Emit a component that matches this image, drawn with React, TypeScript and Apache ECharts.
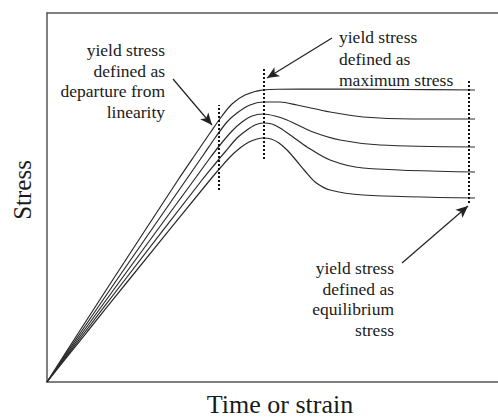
import React, { useEffect, useRef } from "react";
import * as echarts from "echarts";

// Curves: [time/strain, stress] in arbitrary units
const curve1 = [[0, 0], [32, 50], [65, 101], [131, 202], [150, 230], [163, 249], [175, 266], [185, 278], [198, 287], [216, 292], [253, 293], [353, 292.5], [428, 292]];
const curve2 = [[0, 0], [34, 50], [69, 101], [139, 202], [157, 228], [168, 244], [180, 260], [190, 269], [203, 277], [216, 280], [233, 280], [250, 277], [283, 270], [316, 265], [366, 263], [428, 263]];
const curve3 = [[0, 0], [36, 50], [73, 101], [147, 202], [163, 224], [173, 237], [185, 251], [195, 260], [205, 266], [216, 268], [228, 266], [240, 262], [266, 250], [293, 242], [333, 237], [428, 235]];
const curve4 = [[0, 0], [38, 50], [77, 101], [155, 202], [168, 218], [178, 230], [190, 244], [200, 252], [208, 257], [216, 259], [225, 258], [233, 254], [246, 245], [260, 235], [283, 222], [316, 214], [428, 210]];
const curve5 = [[0, 0], [40, 50], [81, 101], [163, 202], [174, 215], [183, 225], [193, 234], [202, 240], [210, 243], [216, 244], [224, 243], [232, 239], [240, 232], [248, 223], [258, 211], [268, 200], [283, 192], [316, 187], [428, 184]];
const curves = [curve1, curve2, curve3, curve4, curve5];

// Dotted marker lines: [x, yFrom, yTo]
const dottedLines = [
  [172, 192, 277],
  [217, 223, 314],
  [422, 179, 303],
];

// Arrows: [xFrom, yFrom, xTo, yTo]
const arrows = [
  [126, 303, 165, 257],
  [285, 344, 220, 304],
  [355, 119, 421, 176],
];

const annoLeft = ["yield stress", "defined as", "departure from", "linearity"];
const annoTop = ["yield stress", "defined as", "maximum stress"];
const annoBottom = ["yield stress", "defined as", "equilibrium", "stress"];
const xTitle = "Time or strain";
const yTitle = "Stress";

const FONT = "'Liberation Serif', 'Times New Roman', serif";

export default function App() {
  const ref = useRef<HTMLDivElement>(null);
  useEffect(() => {
    const chart = echarts.init(ref.current!, null, { renderer: "svg" });
    const axisLine = { show: true, lineStyle: { color: "#555", width: 1.5 } };
    const series: any[] = [];
    curves.forEach((c, i) => {
      series.push({
        type: "line",
        name: "curve" + (i + 1),
        data: c,
        smooth: 0.3,
        showSymbol: false,
        symbol: "none",
        lineStyle: { color: "#2a2a2a", width: 1.2 },
        z: 3,
      });
    });
    dottedLines.forEach((d) => {
      series.push({
        type: "line",
        data: [[d[0], d[1]], [d[0], d[2]]],
        showSymbol: false,
        symbol: "none",
        lineStyle: { color: "#111", width: 2, type: [2, 2] },
        z: 4,
      });
    });
    series.push({
      type: "line",
      data: [],
      markLine: {
        silent: true,
        animation: false,
        symbol: ["none", "arrow"],
        symbolSize: [8, 12],
        label: { show: false },
        lineStyle: { color: "#222", width: 1.2, type: "solid" },
        data: arrows.map((a) => [
          { coord: [a[0], a[1]] },
          { coord: [a[2], a[3]] },
        ]),
      },
    });
    const txt = (text: string, x: number, y: number, align: string, size: number, rotation = 0) => ({
      type: "text",
      x,
      y,
      rotation,
      style: {
        text,
        fontFamily: FONT,
        fontSize: size,
        fill: "#1a1a1a",
        align,
        verticalAlign: "middle",
      },
    });
    const block = (lines: string[], x: number, y0: number, align: string, lh: number) =>
      lines.map((l, i) => txt(l, x, y0 + i * lh, align, 17.5));
    chart.setOption({
      animation: false,
      grid: { left: 47, top: 13, right: 0, bottom: 36 },
      xAxis: [
        {
          type: "value",
          min: 0,
          max: 451,
          axisLine,
          axisTick: { show: false },
          axisLabel: { show: false },
          splitLine: { show: false },
        },
        {
          type: "value",
          position: "top",
          min: 0,
          max: 451,
          axisLine,
          axisTick: { show: false },
          axisLabel: { show: false },
          splitLine: { show: false },
        },
      ],
      yAxis: {
        type: "value",
        min: 0,
        max: 369,
        axisLine,
        axisTick: { show: false },
        axisLabel: { show: false },
        splitLine: { show: false },
      },
      series,
      graphic: [
        ...block(annoLeft, 165, 50, "right", 20.7),
        ...block(annoTop, 339, 37, "left", 21.5),
        ...block(annoBottom, 394, 268, "right", 20.7),
        txt(xTitle, 280, 404, "center", 26),
        txt(yTitle, 22, 190, "center", 25, Math.PI / 2),
      ],
    });
    return () => chart.dispose();
  }, []);
  return <div ref={ref} style={{ width: 498, height: 418, position: "absolute", left: 0, top: 0 }} />;
}
